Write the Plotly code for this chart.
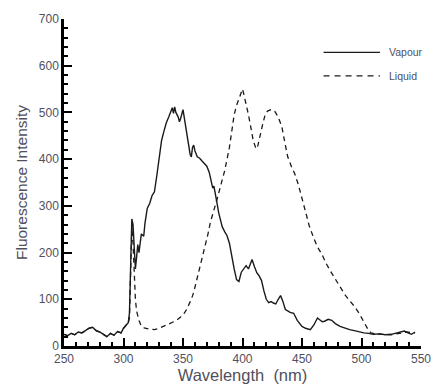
import plotly.graph_objects as go

vapour_wl = [250,253,256,259,262,265,268,271,274,277,280,283,286,289,292,295,298,300,302,304,305,306,307,308,309,310,311,312,313,315,317,318,320,322,324,326,328,330,332,334,336,338,340,341,342,343,344,346,347,348,350,351,352,354,356,357,358,359,360,362,364,366,368,370,372,374,375,376,378,379,380,382,383,385,387,389,391,393,395,397,399,401,403,405,407,408,410,412,414,416,418,420,422,424,426,428,430,432,434,436,438,440,443,446,450,453,457,460,463,465,467,469,472,475,478,482,486,490,494,498,502,506,510,515,520,525,530,533,536,539,542,545]
vapour_val = [25,22,27,24,30,28,33,38,40,33,30,24,20,27,23,31,28,38,45,50,70,160,272,260,200,165,190,217,200,240,235,262,295,305,322,330,365,400,440,460,478,490,505,510,498,512,500,490,480,487,506,490,470,445,410,405,425,430,418,405,402,396,390,385,372,350,338,342,318,300,285,268,255,245,236,220,190,165,142,138,158,165,172,165,178,185,170,157,150,140,118,100,93,95,92,90,100,108,95,78,75,72,70,55,42,38,35,45,60,55,52,53,57,55,48,42,38,35,33,30,28,27,25,26,24,25,28,30,32,28,25,30]

liquid_wl = [250,253,256,259,262,265,268,271,274,277,280,283,286,289,292,295,298,300,302,304,305,306,307,308,309,310,311,313,315,318,322,326,330,334,338,342,345,348,351,353,355,357,359,361,363,365,367,369,371,373,375,377,379,381,383,385,387,389,391,393,395,397,399,400,401,403,405,407,409,411,412,413,415,417,419,421,424,427,430,433,436,438,441,444,447,450,453,456,460,463,467,470,474,478,482,486,490,494,498,501,504,506,508,512,518,525,532,538,545]
liquid_val = [25,22,27,24,30,28,33,38,40,33,30,24,20,27,23,31,28,38,45,50,60,150,255,220,150,100,75,55,42,38,36,35,38,42,47,52,56,62,70,78,88,100,115,135,155,180,200,215,240,265,280,300,318,340,356,375,397,425,460,495,515,530,545,550,540,520,495,468,440,425,422,430,455,475,495,503,506,503,490,470,430,405,385,368,345,315,285,258,230,212,195,178,160,143,125,110,97,85,70,55,42,33,28,26,25,24,27,30,28]

series_names = ["Vapour", "Liquid"]
x_ticks = [250, 300, 350, 400, 450, 500, 550]
y_ticks = [0, 100, 200, 300, 400, 500, 600, 700]

INK = "#1a1a1a"
TXT = "#505060"
FONT = "Liberation Sans, Arial, sans-serif"

fig = go.Figure()
fig.add_trace(go.Scatter(x=vapour_wl, y=vapour_val, mode="lines", name=series_names[0],
                         line=dict(color=INK, width=1.4)))
fig.add_trace(go.Scatter(x=liquid_wl, y=liquid_val, mode="lines", name=series_names[1],
                         line=dict(color=INK, width=1.3, dash="5px,4px")))

# legend drawn as paper-positioned samples
leg_rows = [(0.898, "solid"), (0.826, "6px,5px")]
for (ly, dash), name in zip(leg_rows, series_names):
    fig.add_shape(type="line", xref="paper", yref="paper", x0=0.727, x1=0.885, y0=ly, y1=ly,
                  line=dict(color=INK, width=1.3, dash=dash))
    fig.add_annotation(xref="paper", yref="paper", x=0.905, y=ly, xanchor="left", yanchor="middle",
                       text=name, showarrow=False, font=dict(family=FONT, size=10.5, color=TXT))

tickfont = dict(family=FONT, size=12, color=TXT)
fig.update_layout(
    width=443, height=391,
    margin=dict(l=64, r=13, t=12, b=44),
    paper_bgcolor="white", plot_bgcolor="white",
    showlegend=False,
)
fig.update_xaxes(range=[250, 550], tickvals=x_ticks, ticks="inside", ticklen=8, tickwidth=2,
                 tickcolor="black", showline=True, linecolor="black", linewidth=2.5,
                 showgrid=False, zeroline=False, tickfont=tickfont,
                 minor=dict(dtick=10, ticks="inside", ticklen=4, tickwidth=1.5, tickcolor="black"),
                 title=dict(text="Wavelength  (nm)", standoff=1,
                            font=dict(family=FONT, size=16.5, color=TXT)))
fig.update_yaxes(range=[0, 700], tickvals=y_ticks, ticks="inside", ticklen=8, tickwidth=2,
                 tickcolor="black", showline=True, linecolor="black", linewidth=2.5,
                 showgrid=False, zeroline=False, tickfont=tickfont,
                 minor=dict(dtick=20, ticks="inside", ticklen=4, tickwidth=1.5, tickcolor="black"),
                 title=dict(text="Fluorescence Intensity", standoff=8,
                            font=dict(family=FONT, size=15.5, color=TXT)))

fig.write_html("out.html")
